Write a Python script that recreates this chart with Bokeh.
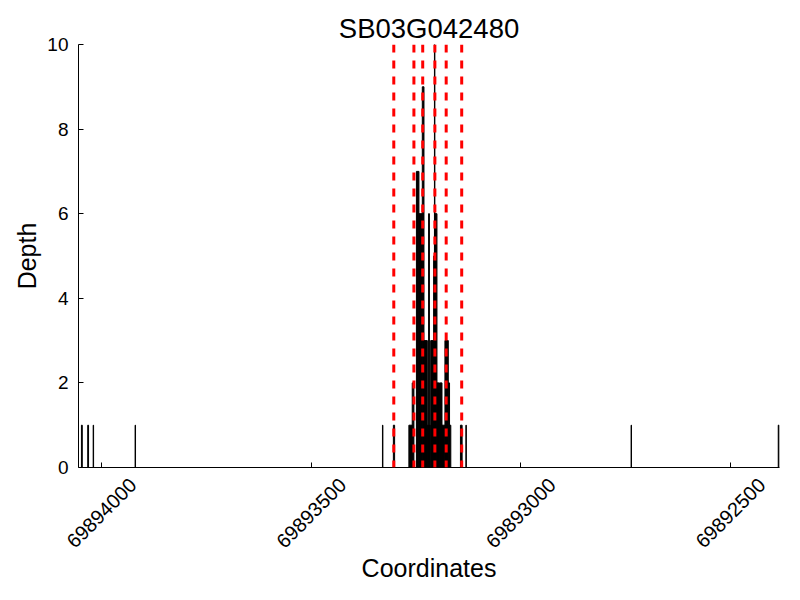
from math import pi
from bokeh.plotting import figure
from bokeh.models import (Range1d, FixedTicker, Span, ColumnDataSource,
                          CustomJSTickFormatter, LinearAxis)
from bokeh.embed import file_html
from bokeh.resources import INLINE

title_text = "SB03G042480"

# coverage intervals (genomic coordinate start/end) and read depth
bar_start = [69894046, 69894031, 69894019, 69893919, 69893329, 69893301,
             69893259, 69893255, 69893243, 69893235, 69893231, 69893223,
             69893220, 69893218, 69893216, 69893208, 69893206, 69893200,
             69893205, 69893198, 69893194, 69893188, 69893181, 69893173,
             69893170, 69893167, 69893140, 69893130, 69892736, 69892384]
bar_end = [69894048, 69894033, 69894020, 69893920, 69893330, 69893304,
           69893267, 69893259, 69893249, 69893243, 69893235, 69893231,
           69893223, 69893220, 69893218, 69893215, 69893208, 69893205,
           69893206, 69893200, 69893198, 69893193, 69893188, 69893181,
           69893173, 69893170, 69893144, 69893131, 69892737, 69892386]
depth = [1, 1, 1, 1, 1, 1,
         1, 2, 7, 6, 9, 3,
         1, 6, 1, 3, 5, 6,
         10, 2, 2, 2, 1, 3,
         2, 1, 1, 1, 1, 1]

# exon boundaries (red dashed lines)
exon_bounds = [69893303, 69893255, 69893234, 69893205, 69893178, 69893141]

x_ticks = [69894000, 69893500, 69893000, 69892500]
x_tick_labels = ["69894000", "69893500", "69893000", "69892500"]
y_ticks = [0, 2, 4, 6, 8, 10]

FONT = "Liberation Sans"
X_START, X_END = 69894055, 69892383
FRAME_W = 701

p = figure(width=792, height=592,
           x_range=Range1d(X_START, X_END), y_range=Range1d(0, 10),
           output_backend="svg", toolbar_location=None,
           min_border_left=78, min_border_right=13,
           min_border_top=44, min_border_bottom=125)

p.title.text = title_text
p.title.align = "center"
p.title.text_font = FONT
p.title.text_font_size = "27.5px"
p.title.text_font_style = "normal"
p.title.text_color = "black"
p.title.standoff = 2

p.outline_line_color = None
p.xgrid.visible = False
p.ygrid.visible = False
p.background_fill_color = "white"
p.border_fill_color = "white"

src = ColumnDataSource(dict(left=bar_start, right=bar_end, top=depth,
                            bottom=[0] * len(depth)))
p.quad(left="left", right="right", top="top", bottom="bottom", source=src,
       fill_color="black", line_color="black", line_width=1)

for b in exon_bounds:
    p.add_layout(Span(location=b, dimension="height", line_color="red",
                      line_width=3, line_dash="8 8"))

# y axis
ya = p.yaxis[0]
ya.ticker = FixedTicker(ticks=y_ticks)
ya.minor_tick_line_color = None
ya.major_tick_in = 5
ya.major_tick_out = 0
ya.major_label_standoff = 10
ya.major_label_text_font = FONT
ya.major_label_text_font_size = "19px"
ya.major_label_text_color = "black"
ya.axis_label = "Depth"
ya.axis_label_text_font = FONT
ya.axis_label_text_font_size = "25px"
ya.axis_label_text_font_style = "normal"
ya.axis_label_text_color = "black"
ya.axis_label_standoff = 3
ya.axis_line_color = "black"

# x axis: line and tick marks at the true tick positions
xa = p.xaxis[0]
xa.ticker = FixedTicker(ticks=x_ticks)
xa.minor_tick_line_color = None
xa.major_tick_in = 5
xa.major_tick_out = 0
xa.formatter = CustomJSTickFormatter(code="return ''")
xa.major_label_standoff = 0
xa.axis_line_color = "black"

# second axis carrying the rotated tick labels, centred under each tick
# (Bokeh anchors rotated labels at their end, so shift the anchor by half
#  the rotated label width, converted from pixels to data units)
units_per_px = abs(X_START - X_END) / FRAME_W
shift = round(31.4 * units_per_px)
label_ticks = [t - shift for t in x_ticks]
la = LinearAxis(ticker=FixedTicker(ticks=label_ticks),
                major_label_overrides={lt: lab for lt, lab in zip(label_ticks, x_tick_labels)},
                major_label_orientation=pi / 4,
                major_label_standoff=8,
                major_label_text_font=FONT,
                major_label_text_font_size="20px",
                major_label_text_color="black",
                axis_line_color=None, major_tick_line_color=None,
                minor_tick_line_color=None,
                axis_label="Coordinates",
                axis_label_text_font=FONT,
                axis_label_text_font_size="25px",
                axis_label_text_font_style="normal",
                axis_label_text_color="black",
                axis_label_standoff=-3)
p.add_layout(la, "below")

open("out.html", "w").write(file_html(p, INLINE))
